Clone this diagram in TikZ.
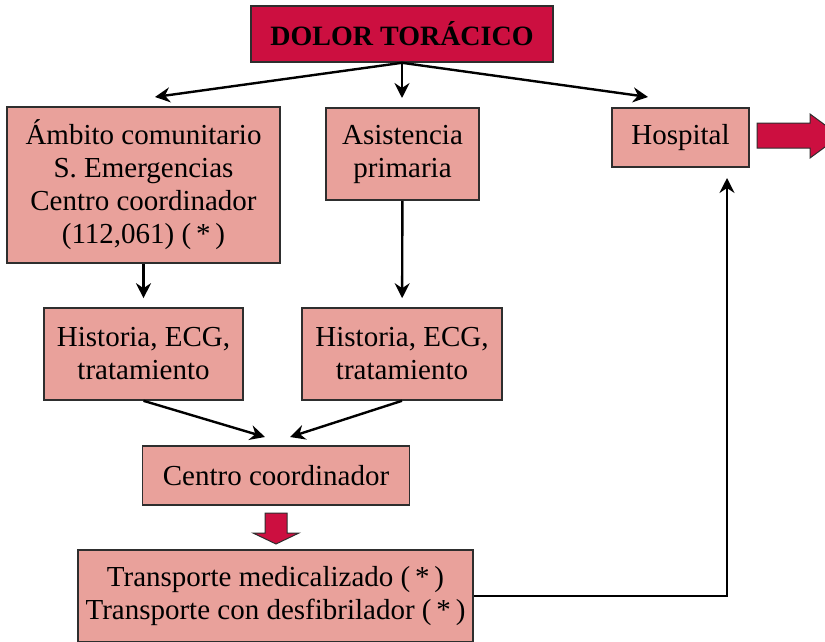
\documentclass[tikz,border=0pt]{standalone}
\usepackage{fontspec}
\setmainfont{Liberation Serif}
\usetikzlibrary{arrows.meta}

\definecolor{rojo}{HTML}{CC0F40}
\definecolor{rosa}{HTML}{E9A19B}
\definecolor{borde}{HTML}{2E2E2E}

\tikzset{
  caja/.style={draw=borde, line width=1.6pt, fill=rosa, align=center, inner sep=0pt,
    font=\fontsize{29}{33}\selectfont},
  flecha/.style={-{Stealth[length=15pt,width=15pt,inset=5pt]}, line width=2.4pt},
  bloque/.style={fill=rojo, draw=borde, line width=1pt}
}

\begin{document}
\begin{tikzpicture}[x=1pt,y=-1pt]

\useasboundingbox (0,0) rectangle (825,642);
\clip (0,0) rectangle (825,642);

\node [caja, fill=rojo, minimum width=302, minimum height=56, font=\fontsize{28}{33}\selectfont\bfseries]
    (dolor) at (402,34) {DOLOR TORÁCICO};

\node [caja, minimum width=273, minimum height=156] (ambito) at (143.5,185)
    {Ámbito comunitario\\S. Emergencias\\Centro coordinador\\(112,061) (\,*\,)};
\node [caja, minimum width=153, minimum height=92] (asist) at (402.5,154)
    {Asistencia\\primaria};
\node [caja, minimum width=137, minimum height=59] (hosp) at (680.5,137.5)
    {Hospital};

\node [caja, minimum width=199, minimum height=92] (hist1) at (143.5,354)
    {Historia, ECG,\\tratamiento};
\node [caja, minimum width=200, minimum height=92] (hist2) at (402,354)
    {Historia, ECG,\\tratamiento};

\node [caja, minimum width=267, minimum height=59] (centro) at (276,475.5)
    {Centro coordinador};
\node [caja, minimum width=395, minimum height=92] (transp) at (275.5,596)
    {Transporte medicalizado (\,*\,)\\Transporte con desfibrilador (\,*\,)};

% extremos libres de las flechas
\coordinate (d1) at (155,97);
\coordinate (d2) at (402,98);
\coordinate (d3) at (648,97);
\coordinate (c1) at (265,437);
\coordinate (c2) at (290,437);
\coordinate (h1) at (727,178);

\foreach \i in {d1,d2,d3}
    \draw [flecha] (dolor.south) -- (\i);

\draw [flecha, shorten >=9pt] (ambito) -- (hist1);
\draw [flecha, shorten >=9pt] (asist) -- (hist2);

\draw [flecha] (hist1.south) -- (c1);
\draw [flecha] (hist2.south) -- (c2);

\draw [flecha] (transp.east) -| (h1);

% flechas gruesas
\draw [bloque] (757,123) -- (810,123) -- (810,114) -- (840,136) -- (810,158)
    -- (810,148) -- (757,148) -- cycle;
\draw [bloque] (265,513) -- (287,513) -- (287,533) -- (299,533) -- (276,544)
    -- (253,533) -- (265,533) -- cycle;

\end{tikzpicture}
\end{document}
